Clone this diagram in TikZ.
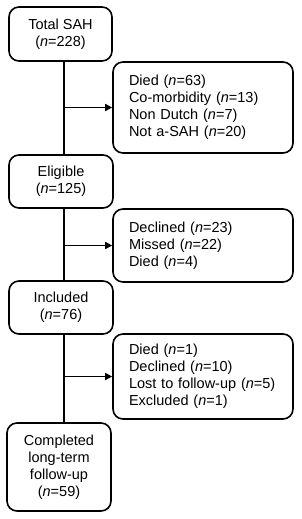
\documentclass[tikz,border=0pt]{standalone}
\usepackage{fontspec}
\setmainfont{Liberation Sans}
\usetikzlibrary{arrows.meta}
\begin{document}
\begin{tikzpicture}[x=1pt,y=-1pt,
  box/.style={draw=black, line width=1.6pt, rounded corners=10pt, align=center,
    inner sep=0pt, font=\fontsize{14.5}{17}\selectfont},
  sidebox/.style={box, align=left, text width=148pt, minimum width=180pt},
  conn/.style={line width=1.6pt},
  arr/.style={conn, -{Triangle[length=7pt,width=7pt]}}]
\useasboundingbox (0,0) rectangle (302,519);
\node[box, minimum width=103pt, minimum height=54pt] (b1) at (60.5,34) {Total SAH\\(\textit{n}=228)};
\node[box, minimum width=104pt, minimum height=53pt] (b2) at (61,181.5) {Eligible\\(\textit{n}=125)};
\node[box, minimum width=104pt, minimum height=53pt] (b3) at (61,307.5) {Included\\(\textit{n}=76)};
\node[box, minimum width=104pt, minimum height=88pt] (b4) at (59,467) {Completed\\long-term\\follow-up\\(\textit{n}=59)};
\node[sidebox, minimum height=91pt] (s1) at (203,107.5) {Died (\textit{n}=63)\\Co-morbidity (\textit{n}=13)\\Non Dutch (\textit{n}=7)\\Not a-SAH (\textit{n}=20)};
\node[sidebox, minimum height=73pt] (s2) at (203,245.5) {Declined (\textit{n}=23)\\Missed (\textit{n}=22)\\Died (\textit{n}=4)};
\node[sidebox, minimum height=85pt] (s3) at (203,376.5) {Died (\textit{n}=1)\\Declined (\textit{n}=10)\\Lost to follow-up (\textit{n}=5)\\Excluded (\textit{n}=1)};
\coordinate (vx) at (64,0);
\draw[conn] (b1.south -| vx) -- (b2.north -| vx);
\draw[conn] (b2.south -| vx) -- (b3.north -| vx);
\draw[conn] (b3.south -| vx) -- (b4.north -| vx);
\draw[arr] (vx |- s1.west) -- (s1.west);
\draw[arr] (vx |- s2.west) -- (s2.west);
\draw[arr] (vx |- s3.west) -- (s3.west);
\end{tikzpicture}
\end{document}
